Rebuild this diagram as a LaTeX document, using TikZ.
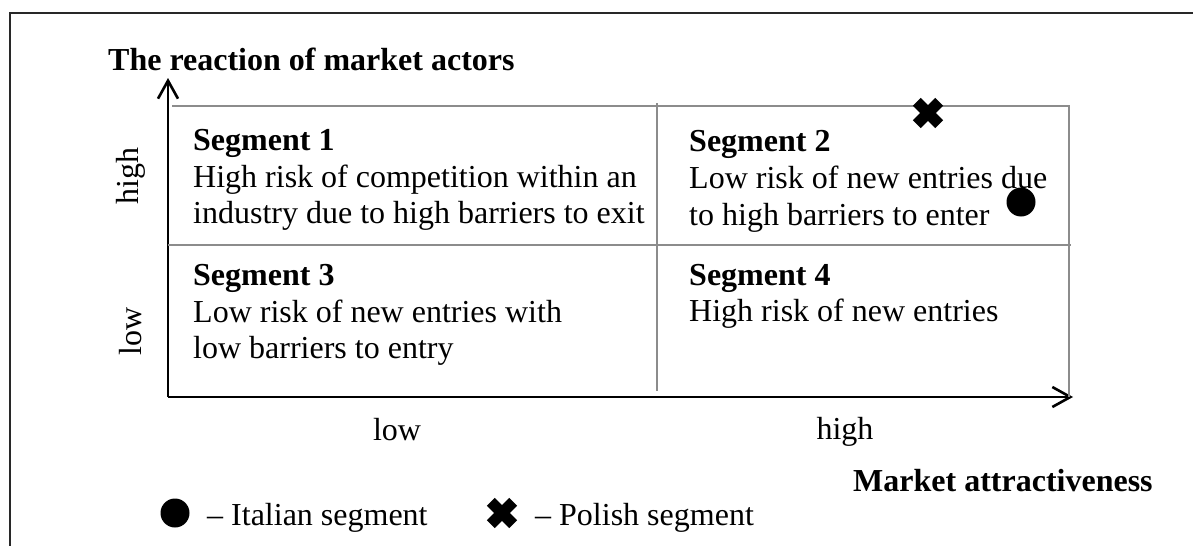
\documentclass[tikz,border=0pt]{standalone}
\usepackage{fontspec}
\setmainfont{Liberation Serif}
\usetikzlibrary{arrows.meta}
\definecolor{gridgray}{RGB}{140,140,140}
\definecolor{framegray}{RGB}{40,40,40}
\begin{document}
\begin{tikzpicture}[x=1pt,y=-1pt,
  txt/.style={inner sep=0pt, font=\fontsize{32}{36.6}\selectfont},
  line/.style={txt, anchor=base west},
  head/.style={line, font=\fontsize{32}{36.6}\selectfont\bfseries},
  axisline/.style={line width=2.6pt, -{Straight Barb[length=18pt,width=20pt]}},
  gridline/.style={gridgray, line width=2pt},
  italian/.style={circle, fill=black, inner sep=0pt, minimum size=29pt},
  polish/.style={rectangle, inner sep=0pt, minimum size=22pt},
  crossbar/.style={line width=11pt, line cap=butt},
]
\useasboundingbox (0,0) rectangle (1193,546);

% outer frame (top and left edges)
\draw[framegray, line width=1.5pt] (1193,13) -- (10,13) -- (10,546);

% axes
\coordinate (O) at (168,397);
\coordinate (ytip) at (168,78);
\coordinate (xtip) at (1073,397);
\draw[axisline] (O) -- (ytip);
\draw[axisline] (O) -- (xtip);

% quadrant grid
\coordinate (tl) at (172,106);
\coordinate (tr) at (1069,106);
\coordinate (br) at (1069,397);
\coordinate (mtop) at (657,103);
\coordinate (mbot) at (657,391);
\coordinate (ml) at (168,245);
\coordinate (mr) at (1071,245);
\draw[gridline] (tl) -- (tr) -- (br);
\draw[gridline] (mtop) -- (mbot);
\draw[gridline] (ml) -- (mr);

% quadrant texts
\node[head] (s1h) at (193,150) {Segment 1};
\node[line] (s1a) at (193,187) {High risk of competition within an};
\node[line] (s1b) at (193,223) {industry due to high barriers to exit};

\node[head] (s2h) at (689,151.5) {Segment 2};
\node[line] (s2a) at (689,188) {Low risk of new entries due};
\node[line] (s2b) at (689,225) {to high barriers to enter};

\node[head] (s3h) at (193,285) {Segment 3};
\node[line] (s3a) at (193,322) {Low risk of new entries with};
\node[line] (s3b) at (193,358) {low barriers to entry};

\node[head] (s4h) at (689,285) {Segment 4};
\node[line] (s4a) at (689,321.7) {High risk of new entries};

% axis titles and levels
\node[head] (ytitle) at (108,70) {The reaction of market actors};
\node[head] (xtitle) at (853,491) {Market attractiveness};
\node[txt, rotate=90] (yhigh) at (131,176) {high};
\node[txt, rotate=90] (ylow) at (131,331) {low};
\node[txt, anchor=base] (xlow) at (397,440) {low};
\node[txt, anchor=base] (xhigh) at (845,439) {high};

% positions of the segments
\node[polish] (pl) at (928,113) {};
\draw[crossbar] (pl.north west) -- (pl.south east) (pl.north east) -- (pl.south west);
\node[italian] (it) at (1021,202) {};

% legend
\node[italian] (itkey) at (175,513) {};
\node[line] (itlab) at (207,525) {– Italian segment};
\node[polish] (plkey) at (502,513) {};
\draw[crossbar] (plkey.north west) -- (plkey.south east) (plkey.north east) -- (plkey.south west);
\node[line] (pllab) at (535,525) {– Polish segment};
\end{tikzpicture}
\end{document}
